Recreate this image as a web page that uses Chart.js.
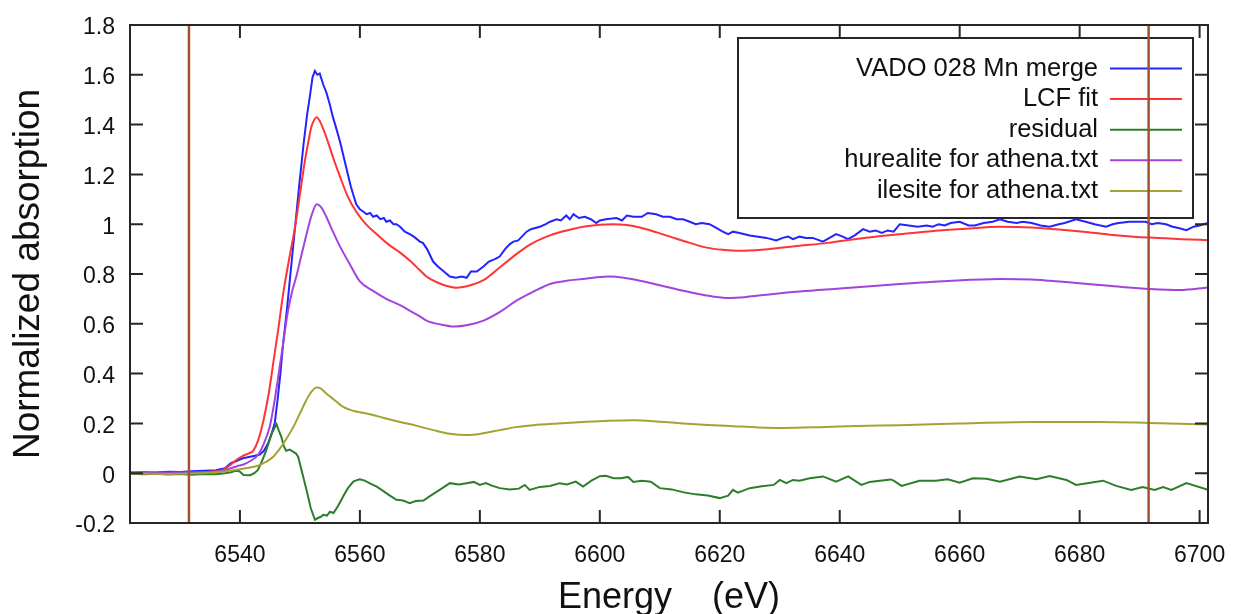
<!DOCTYPE html>
<html lang="en">
<head>
  <meta charset="UTF-8" />
  <title>LCF fit - VADO 028 Mn</title>
  <script src="https://cdn.jsdelivr.net/npm/chart.js"></script>
  <style>
    html, body { margin: 0; padding: 0; background: #fff; overflow: hidden; }
    #wrap { width: 1233px; height: 614px; position: relative; }
  </style>
</head>
<body>
<div id="wrap"><canvas id="lcf"></canvas></div>

<script>
  // axis ticks
  const xTicks = [6540, 6560, 6580, 6600, 6620, 6640, 6660, 6680, 6700];
  const yTicks = [-0.2, 0, 0.2, 0.4, 0.6, 0.8, 1, 1.2, 1.4, 1.6, 1.8];

  // fit range markers (eV)
  const fitRange = [6531.5, 6691.5];

  // [energy eV, normalized absorption]
  const mergeData = [
    [6521.7, 0.003], [6524, 0.004], [6526, 0.003], [6528, 0.006], [6530, 0.005], [6532, 0.008], [6534, 0.01],
    [6536, 0.012], [6537.5, 0.02], [6538.5, 0.04], [6539.5, 0.05], [6540.5, 0.06], [6541.5, 0.065], [6542.5, 0.07],
    [6543.3, 0.075], [6544, 0.09], [6544.7, 0.12], [6545.3, 0.16], [6545.8, 0.2], [6546.3, 0.3], [6546.7, 0.39],
    [6547.2, 0.52], [6547.8, 0.65], [6548.5, 0.82], [6549.2, 0.99], [6549.9, 1.16], [6550.6, 1.32], [6551.2, 1.44],
    [6551.7, 1.52], [6552.1, 1.59], [6552.5, 1.615], [6552.9, 1.6], [6553.3, 1.605], [6553.9, 1.56], [6554.4, 1.53],
    [6555, 1.48], [6555.5, 1.43], [6556, 1.39], [6556.7, 1.33], [6557.3, 1.27], [6558, 1.2], [6558.5, 1.15],
    [6559, 1.11], [6559.4, 1.08], [6560, 1.06], [6560.6, 1.05], [6561.1, 1.04], [6561.7, 1.045], [6562.2, 1.03],
    [6562.8, 1.035], [6563.4, 1.02], [6564, 1.025], [6564.4, 1.01], [6565, 1.015], [6565.6, 1.0], [6566.1, 1.0],
    [6566.7, 0.99], [6567.5, 0.97], [6568.3, 0.96], [6569, 0.95], [6570, 0.93], [6570.5, 0.925], [6571.2, 0.9],
    [6572.2, 0.85], [6573, 0.83], [6574, 0.81], [6575, 0.79], [6576, 0.785], [6577, 0.79], [6577.8, 0.785],
    [6578.5, 0.81], [6579.5, 0.81], [6580.6, 0.83], [6581.5, 0.85], [6582.5, 0.86], [6583.3, 0.87], [6584.2, 0.9],
    [6585, 0.92], [6585.6, 0.93], [6586.4, 0.935], [6587, 0.95], [6587.8, 0.97], [6588.5, 0.98], [6590, 0.99],
    [6591, 1.0], [6591.7, 1.01], [6592.8, 1.02], [6593.5, 1.015], [6594.4, 1.035], [6595, 1.02], [6595.6, 1.04],
    [6596.5, 1.025], [6597.5, 1.03], [6598.5, 1.02], [6599.4, 1.005], [6600, 1.015], [6601, 1.02], [6602.8, 1.025],
    [6603.7, 1.015], [6604.5, 1.035], [6605.6, 1.03], [6607, 1.03], [6608, 1.045], [6609.4, 1.04], [6610.5, 1.03],
    [6611.7, 1.03], [6612.8, 1.02], [6613.9, 1.02], [6615, 1.01], [6616, 1.0], [6617, 1.005], [6618.3, 1.0],
    [6619.4, 0.985], [6620.5, 0.97], [6621.4, 0.96], [6622.2, 0.97], [6623.3, 0.965], [6625, 0.955], [6626.4, 0.95],
    [6627.8, 0.945], [6629.4, 0.935], [6630.5, 0.945], [6631.4, 0.95], [6632.2, 0.94], [6633.3, 0.95], [6634.4, 0.945],
    [6635.5, 0.945], [6637.2, 0.93], [6638.3, 0.945], [6639.4, 0.96], [6640.5, 0.95], [6641.4, 0.94], [6642.5, 0.955],
    [6643.9, 0.98], [6645, 0.97], [6646, 0.975], [6647, 0.965], [6648, 0.975], [6649, 0.97], [6650, 1.0],
    [6651.5, 0.995], [6653, 0.99], [6654.5, 0.995], [6655.5, 0.99], [6656.5, 1.0], [6657.5, 0.995], [6658.5, 1.005],
    [6660, 1.01], [6661.5, 0.995], [6662.5, 0.995], [6664, 1.005], [6665.5, 1.01], [6666.7, 1.02], [6668, 1.01],
    [6669.5, 1.005], [6670.5, 1.01], [6672, 1.005], [6673.5, 0.995], [6675, 0.99], [6676.5, 1.0], [6677.5, 1.005],
    [6679.4, 1.02], [6681, 1.01], [6682.5, 1.0], [6684.4, 0.99], [6685.5, 1.0], [6686.5, 1.005], [6688.3, 1.01],
    [6689.5, 1.01], [6691, 1.01], [6692, 1.0], [6693, 1.005], [6694.4, 1.0], [6695.5, 0.99], [6696.5, 0.985],
    [6697.8, 0.976], [6699, 0.99], [6700, 0.995], [6701.4, 1.005]
  ];

  const fitData = [
    [6521.7, 0.002], [6530, 0.003], [6535, 0.006], [6537, 0.012], [6538.5, 0.035], [6539.5, 0.055], [6540.5, 0.07],
    [6541.5, 0.08], [6542.2, 0.09], [6543, 0.13], [6543.9, 0.21], [6544.8, 0.32], [6545.6, 0.45], [6546.4, 0.58],
    [6547.2, 0.72], [6548.2, 0.86], [6549.2, 0.99], [6550, 1.12], [6550.8, 1.25], [6551.4, 1.33], [6551.9, 1.39],
    [6552.4, 1.42], [6552.8, 1.43], [6553.4, 1.41], [6554.4, 1.35], [6555.5, 1.27], [6556.7, 1.19], [6558, 1.11],
    [6559.4, 1.05], [6561, 1.0], [6562.8, 0.96], [6564.7, 0.92], [6566.7, 0.886], [6568.5, 0.85], [6570, 0.815],
    [6571.1, 0.79], [6573, 0.765], [6574.5, 0.752], [6576.1, 0.745], [6578, 0.752], [6580.6, 0.775], [6583, 0.82],
    [6586.1, 0.88], [6588.5, 0.92], [6591.7, 0.955], [6594.5, 0.975], [6597.2, 0.99], [6600, 0.998], [6602.2, 1.0],
    [6604.5, 0.997], [6606.7, 0.987], [6609.5, 0.967], [6612.2, 0.946], [6615, 0.925], [6617.8, 0.906],
    [6620.5, 0.897], [6623.3, 0.893], [6627, 0.897], [6630.6, 0.906], [6633.3, 0.913], [6638, 0.925],
    [6644.4, 0.946], [6650, 0.96], [6655.6, 0.973], [6661, 0.982], [6666.7, 0.99], [6672, 0.987], [6676, 0.98],
    [6680.6, 0.97], [6685, 0.958], [6689, 0.95], [6693, 0.945], [6697, 0.94], [6701.4, 0.936]
  ];

  const residualData = [
    [6521.7, -0.002], [6524, -0.004], [6526, -0.002], [6528, -0.005], [6530, -0.003], [6532, -0.006], [6534, -0.003],
    [6536, -0.004], [6537.5, 0.0], [6538.5, 0.004], [6539.3, 0.01], [6539.9, 0.008], [6540.6, -0.007],
    [6541.7, -0.008], [6542.4, 0.0], [6543, 0.013], [6543.7, 0.05], [6544.4, 0.093], [6545.3, 0.16], [6546.1, 0.197],
    [6546.5, 0.17], [6546.9, 0.146], [6547.3, 0.11], [6547.7, 0.09], [6548.3, 0.095], [6548.9, 0.086],
    [6549.3, 0.08], [6549.7, 0.066], [6550.4, 0.0], [6551.1, -0.067], [6551.8, -0.14], [6552.5, -0.187],
    [6553, -0.18], [6553.5, -0.175], [6553.9, -0.167], [6554.5, -0.17], [6555, -0.155], [6555.6, -0.16],
    [6556.4, -0.13], [6557.2, -0.094], [6558, -0.06], [6558.9, -0.034], [6559.5, -0.028], [6560, -0.024],
    [6560.8, -0.03], [6561.6, -0.04], [6562.8, -0.054], [6563.8, -0.07], [6565, -0.09], [6566.1, -0.107],
    [6567.2, -0.11], [6568.3, -0.12], [6569.3, -0.112], [6570.6, -0.11], [6571.8, -0.09], [6573.3, -0.067],
    [6575, -0.04], [6576.5, -0.045], [6577.8, -0.04], [6579, -0.035], [6580, -0.047], [6581, -0.04], [6582, -0.05],
    [6583.3, -0.06], [6585, -0.065], [6586.5, -0.062], [6587.5, -0.047], [6588.3, -0.067], [6590, -0.055],
    [6591.7, -0.051], [6593.3, -0.04], [6594.5, -0.045], [6596, -0.034], [6597.2, -0.054], [6598.6, -0.03],
    [6600, -0.012], [6601, -0.01], [6602.3, -0.02], [6603.5, -0.02], [6604.7, -0.015], [6605.6, -0.035],
    [6607, -0.03], [6608.5, -0.034], [6610, -0.06], [6612, -0.065], [6614, -0.077], [6616, -0.085], [6618, -0.09],
    [6620, -0.1], [6621.4, -0.09], [6622.2, -0.067], [6623, -0.078], [6625, -0.06], [6627, -0.052], [6629, -0.047],
    [6630, -0.027], [6631.1, -0.04], [6632.2, -0.027], [6633.3, -0.03], [6635, -0.02], [6637.2, -0.013],
    [6639.4, -0.034], [6641.4, -0.013], [6643.6, -0.047], [6645, -0.035], [6646.7, -0.03], [6648.5, -0.025],
    [6649, -0.03], [6650.3, -0.051], [6653.3, -0.03], [6656, -0.03], [6658, -0.024], [6660, -0.038],
    [6662.2, -0.02], [6664.5, -0.022], [6666.7, -0.034], [6670, -0.013], [6672.8, -0.024], [6675, -0.011],
    [6677.8, -0.027], [6679.4, -0.047], [6683.9, -0.03], [6686.1, -0.051], [6688.6, -0.067], [6690.5, -0.056],
    [6692.5, -0.067], [6693.9, -0.056], [6695.3, -0.067], [6697.8, -0.04], [6701.4, -0.067]
  ];

  const hurealiteData = [
    [6521.7, 0.0], [6530, 0.002], [6535, 0.004], [6537, 0.01], [6538.5, 0.02], [6539.5, 0.028], [6540.6, 0.035],
    [6541.8, 0.05], [6543, 0.073], [6544, 0.12], [6545, 0.19], [6545.7, 0.28], [6546.4, 0.39], [6547.2, 0.52],
    [6548, 0.65], [6548.7, 0.73], [6549.4, 0.79], [6550.2, 0.87], [6551.1, 0.96], [6552, 1.04], [6552.8, 1.08],
    [6553.5, 1.07], [6554.4, 1.03], [6555.5, 0.97], [6556.7, 0.91], [6558.3, 0.84], [6560, 0.77], [6562, 0.735],
    [6564.4, 0.70], [6566.7, 0.675], [6568.5, 0.65], [6570, 0.63], [6571.1, 0.613], [6573.5, 0.597],
    [6575.8, 0.589], [6578, 0.595], [6580.6, 0.613], [6583.5, 0.65], [6586.1, 0.693], [6589, 0.73], [6591.7, 0.76],
    [6594.5, 0.773], [6597.2, 0.78], [6599.5, 0.787], [6601.7, 0.79], [6604, 0.785], [6606.7, 0.773],
    [6610, 0.755], [6613.9, 0.733], [6617.5, 0.715], [6621.1, 0.704], [6624.5, 0.708], [6627.8, 0.717],
    [6633.3, 0.73], [6640, 0.742], [6650, 0.76], [6658, 0.772], [6666.7, 0.78], [6672, 0.778], [6675, 0.773],
    [6679, 0.765], [6683.3, 0.756], [6687.5, 0.747], [6691.7, 0.74], [6696.7, 0.736], [6701.4, 0.746]
  ];

  const ilesiteData = [
    [6521.7, -0.002], [6528, -0.003], [6533.3, 0.0], [6536, 0.004], [6538, 0.009], [6540, 0.016], [6541.5, 0.022],
    [6543, 0.03], [6544.3, 0.045], [6545.6, 0.067], [6546.7, 0.1], [6547.8, 0.14], [6549, 0.19], [6550, 0.24],
    [6551, 0.29], [6551.7, 0.32], [6552.8, 0.344], [6553.5, 0.34], [6554.4, 0.32], [6555.7, 0.295], [6557.2, 0.266],
    [6559, 0.25], [6561.1, 0.24], [6564, 0.222], [6566.7, 0.206], [6569.5, 0.19], [6572.2, 0.173], [6575, 0.158],
    [6577.8, 0.153], [6580.5, 0.16], [6583.3, 0.173], [6586, 0.185], [6588.9, 0.193], [6593, 0.2], [6597.2, 0.206],
    [6601.5, 0.211], [6605.6, 0.213], [6610, 0.207], [6613.9, 0.2], [6618, 0.194], [6622.2, 0.189],
    [6626.5, 0.184], [6630.6, 0.182], [6636.7, 0.185], [6643, 0.19], [6650, 0.193], [6660, 0.2], [6672, 0.206],
    [6683.3, 0.206], [6691.7, 0.202], [6701.4, 0.196]
  ];

  const FONT = "'Liberation Sans', Arial, sans-serif";
  const toXY = arr => arr.map(([x, y]) => ({ x, y }));

  function curve(label, data, color, order, smooth) {
    return {
      label, data: toXY(data), borderColor: color, backgroundColor: color,
      borderWidth: 2, pointRadius: 0, order, inLegend: true,
      tension: 0, cubicInterpolationMode: smooth ? 'monotone' : 'default'
    };
  }
  function marker(e) {
    return {
      label: 'range', data: [{ x: e, y: yTicks[0] }, { x: e, y: yTicks[yTicks.length - 1] }],
      borderColor: '#a4512e', borderWidth: 2.5, pointRadius: 0, order: 0, inLegend: false
    };
  }

  // keep the plot frame where layout.padding puts it (no room reserved for label overhang)
  const noOverhang = s => { s.paddingLeft = 0; s.paddingRight = 0; s.paddingTop = 0; s.paddingBottom = 0; };

  // gnuplot-style key: text right aligned, sample line on the right
  const keyBox = {
    id: 'keyBox',
    beforeDatasetsDraw(chart) {
      const { ctx } = chart;
      ctx.save();
      ctx.fillStyle = '#fff';
      ctx.fillRect(738, 38, 455, 180);
      ctx.strokeStyle = '#262626';
      ctx.lineWidth = 2;
      ctx.strokeRect(738, 38, 455, 180);
      ctx.font = '25.5px ' + FONT;
      ctx.textAlign = 'right';
      ctx.textBaseline = 'middle';
      let row = 0;
      chart.data.datasets.forEach(ds => {
        if (!ds.inLegend) return;
        const y = 68.5 + row * 30.6;
        ctx.fillStyle = '#111';
        ctx.fillText(ds.label, 1098, y);
        ctx.strokeStyle = ds.borderColor;
        ctx.lineWidth = 2;
        ctx.beginPath();
        ctx.moveTo(1110, y);
        ctx.lineTo(1182, y);
        ctx.stroke();
        row++;
      });
      ctx.restore();
    }
  };

  // border plus inward ticks on all four sides
  const frameTicks = {
    id: 'frameTicks',
    afterDatasetsDraw(chart) {
      const { ctx, chartArea: a, scales: { x, y } } = chart;
      const len = 13;
      ctx.save();
      ctx.strokeStyle = '#262626';
      ctx.lineWidth = 2;
      ctx.beginPath();
      xTicks.forEach(v => {
        const px = x.getPixelForValue(v);
        ctx.moveTo(px, a.bottom); ctx.lineTo(px, a.bottom - len);
        ctx.moveTo(px, a.top); ctx.lineTo(px, a.top + len);
      });
      yTicks.forEach(v => {
        const py = y.getPixelForValue(v);
        ctx.moveTo(a.left, py); ctx.lineTo(a.left + len, py);
        ctx.moveTo(a.right, py); ctx.lineTo(a.right - len, py);
      });
      ctx.stroke();
      ctx.strokeRect(a.left, a.top, a.right - a.left, a.bottom - a.top);
      ctx.restore();
    }
  };

  new Chart(document.getElementById('lcf'), {
    type: 'line',
    data: {
      datasets: [
        curve('VADO 028 Mn merge', mergeData, '#2323ff', 5, false),
        curve('LCF fit', fitData, '#ff3434', 4, true),
        curve('residual', residualData, '#2c7d2c', 3, false),
        curve('hurealite for athena.txt', hurealiteData, '#a443dc', 2, true),
        curve('ilesite for athena.txt', ilesiteData, '#a2a236', 1, true),
        marker(fitRange[0]),
        marker(fitRange[1])
      ]
    },
    options: {
      responsive: true,
      maintainAspectRatio: false,
      animation: false,
      devicePixelRatio: 1,
      layout: { padding: { top: 25, right: 25, left: 0, bottom: 0 } },
      plugins: { legend: { display: false }, tooltip: { enabled: false } },
      scales: {
        x: {
          type: 'linear',
          min: 6521.67, max: 6701.4,
          grid: { display: false, drawTicks: false },
          border: { display: false },
          afterBuildTicks: s => { s.ticks = xTicks.map(v => ({ value: v })); },
          afterFit: s => { s.height = 91; noOverhang(s); },
          ticks: {
            color: '#111', padding: 19, maxRotation: 0,
            font: { family: FONT, size: 23 },
            callback: v => String(v)
          },
          title: {
            display: true, text: 'Energy    (eV)', color: '#111',
            font: { family: FONT, size: 36, lineHeight: 0.85 },
            padding: { top: 0, bottom: 1 }
          }
        },
        y: {
          min: -0.2, max: 1.8,
          grid: { display: false, drawTicks: false },
          border: { display: false },
          afterBuildTicks: s => { s.ticks = yTicks.map(v => ({ value: v })); },
          afterFit: s => { s.width = 130; noOverhang(s); },
          ticks: {
            color: '#111', padding: 15, labelOffset: 3,
            font: { family: FONT, size: 23 },
            callback: v => String(Math.round(v * 10) / 10)
          },
          title: {
            display: true, text: 'Normalized absorption', color: '#111',
            font: { family: FONT, size: 37 },
            padding: { top: 7, bottom: 0 }
          }
        }
      }
    },
    plugins: [keyBox, frameTicks]
  });
</script>
</body>
</html>
